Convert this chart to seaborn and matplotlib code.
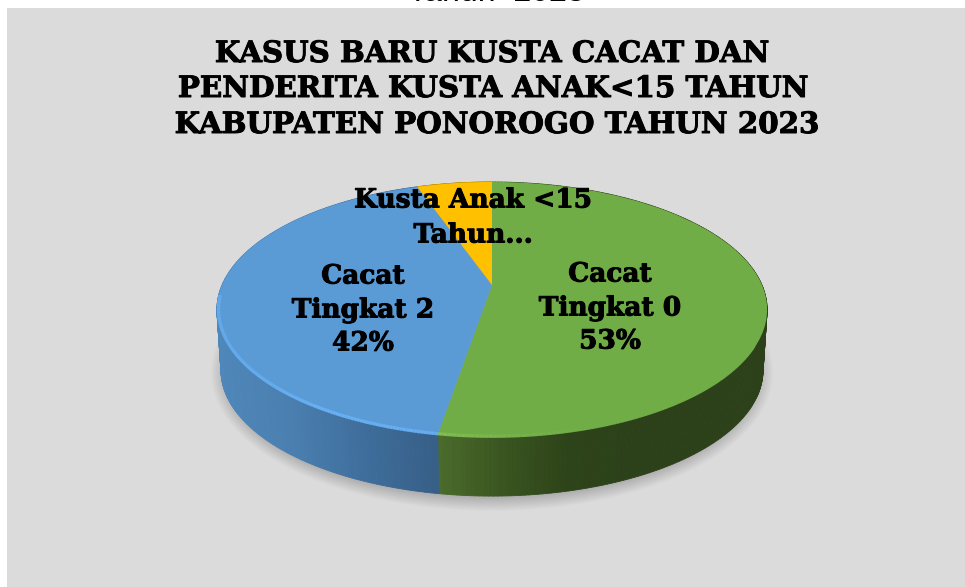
import numpy as np
import matplotlib
matplotlib.use("Agg")
import matplotlib.pyplot as plt
import matplotlib.patheffects as pe
from matplotlib.collections import PolyCollection, LineCollection
from matplotlib.patches import Ellipse, Rectangle
from matplotlib.path import Path
from matplotlib.transforms import Transform
import seaborn as sns

# ---- data ----
categories = ["Cacat Tingkat 0", "Cacat Tingkat 2", "Kusta Anak <15 Tahun"]
shares = [52.6, 42.1, 5.3]
label_lines = [["Cacat", "Tingkat 0", "53%"], ["Cacat", "Tingkat 2", "42%"], ["Kusta Anak <15", "Tahun..."]]
top_colors = ["#70ad47", "#5b9bd5", "#ffc000"]
title_lines = ["KASUS BARU KUSTA CACAT DAN", "PENDERITA KUSTA ANAK<15 TAHUN", "KABUPATEN PONOROGO TAHUN 2023"]
caption = "Tahun  2023"

# ---- layout (pixels) ----
W, H = 965, 587
HUB = (492.0, 285.0)
TILT_C, TILT_A, TILT_S = 0.192, 122.8, 270.0
DEPTH = 61.0
BG = "#dbdbdb"
SERIF = ["DejaVu Serif"]
HEAVY = [pe.withStroke(linewidth=0.7, foreground="black")]


def project(x, y, shrink=1.0, drop=0.0):
    d = 1 + TILT_C * y
    return HUB[0] + shrink * TILT_S * x / d, 310 + shrink * (HUB[1] - TILT_A * y / d - 310) + drop


class Tilt(Transform):
    input_dims = output_dims = 2
    is_separable = False

    def transform_non_affine(self, values):
        v = np.asarray(values, float)
        px, py = project(v[:, 0], v[:, 1])
        return np.column_stack([px, py])

    def transform_path_non_affine(self, path):
        return Path(self.transform_non_affine(path.vertices), path.codes)


sns.set_theme(style="white")
fig = plt.figure(figsize=(W / 100, H / 100), dpi=100, facecolor="white")
ax = fig.add_axes([0, 0, 1, 1])

wedges, _ = ax.pie(shares, colors=top_colors, startangle=90, counterclock=False,
                   wedgeprops={"linewidth": 0})
ax.set_aspect("auto")
ax.set_xlim(0, W)
ax.set_ylim(H, 0)
ax.axis("off")

ax.add_patch(Rectangle((7, 8), W - 7, H - 8, facecolor=BG, edgecolor="none", zorder=0))

# soft drop shadow
for i in range(22):
    ax.add_patch(Ellipse((HUB[0], 310 + DEPTH + 2), 2 * (258 + i * 1.1), 2 * (118 + i * 0.95),
                         facecolor="black", edgecolor="none", alpha=0.011, zorder=1))

tilt = Tilt() + ax.transData
for w in wedges:
    w.set_transform(tilt)
    w.set_zorder(5)

# side wall and bevel, one arc per share
wall_palettes = [
    sns.blend_palette(["#4b6c2c", "#3a5520", "#2d4319", "#2c4119", "#2c4119", "#2c4119"], 200),
    sns.blend_palette(["#4f87bb", "#4a7fb0", "#3f6e9c", "#375f87"], 200),
    sns.blend_palette(["#bf9000", "#bf9000"], 200),
]
rim_palettes = [
    sns.blend_palette(["#80bd52", "#76b24c", "#70ad47", "#70ad47", "#70ad47"], 200),
    sns.blend_palette(["#64aaec", "#68b0f4", "#66acf0"], 200),
    sns.blend_palette(["#ffc000", "#ffc000"], 200),
]
rim_floor = [345, 296, 9999]

start = 90.0
for share, wp, rp, floor in zip(shares, wall_palettes, rim_palettes, rim_floor):
    stop = start - 360.0 * share / sum(shares)
    th = np.radians(np.linspace(start, stop, 240))
    cx, cy = np.cos(th), np.sin(th)
    tx, ty = project(cx, cy)
    bx, by = project(cx, cy, shrink=0.985, drop=DEPTH)
    rx, ry = project(cx, cy, shrink=0.994)
    lo, hi = tx.min(), tx.max()
    polys, cols, segs, rims = [], [], [], []
    for k in range(len(th) - 1):
        polys.append([(tx[k], ty[k]), (tx[k + 1], ty[k + 1]), (bx[k + 1], by[k + 1]), (bx[k], by[k])])
        idx = int(np.clip((tx[k] - lo) / max(hi - lo, 1), 0, 0.999) * 200)
        cols.append(wp[idx])
        if ty[k] > floor:
            segs.append([(rx[k], ry[k]), (rx[k + 1], ry[k + 1])])
            rims.append(rp[idx])
    ax.add_collection(PolyCollection(polys, facecolors=cols, edgecolors=cols, linewidths=0.6, zorder=3))
    if segs:
        ax.add_collection(LineCollection(segs, colors=rims, linewidths=2.4, zorder=6, capstyle="butt"))
    start = stop

# title and labels
for line, x, y in zip(title_lines, [491.5, 492.5, 496.5], [53.5, 88.5, 124.5]):
    ax.text(x, y, line, ha="center", va="center", family=SERIF, weight="bold", fontsize=21.1,
            color="black", zorder=10, path_effects=HEAVY)
ax.text(496, -7, caption, ha="center", va="center", family=["Liberation Sans"], fontsize=23,
        color="black", zorder=10, clip_on=False)

label_pos = [(610, [274, 308, 341]), (363, [276, 310, 343]), (473, [200, 235])]
for lines, (x, ys) in zip(label_lines, label_pos):
    for line, y in zip(lines, ys):
        ax.text(x, y, line, ha="center", va="center", family=SERIF, weight="bold", fontsize=19,
                color="black", zorder=11, path_effects=HEAVY)

fig.savefig("out.png", dpi=100, facecolor="white")
